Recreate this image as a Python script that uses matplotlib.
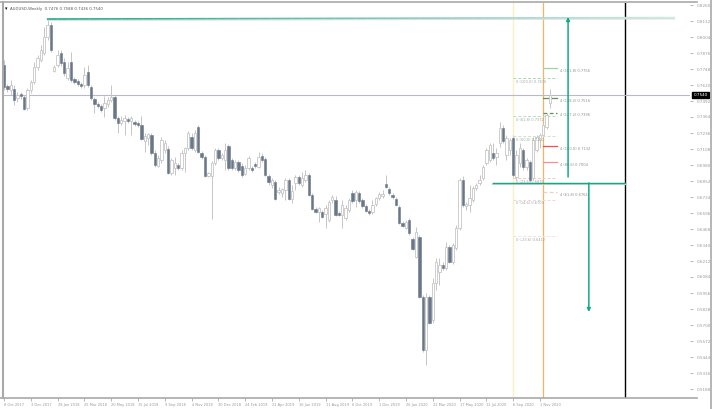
"""
plot.py - weekly candle chart with the drawn levels and arrows, saved as out.png
"""
import matplotlib
matplotlib.use("Agg")
import matplotlib.pyplot as plt
import numpy as np
from matplotlib.collections import LineCollection
from matplotlib.lines import Line2D

# ── Data: weekly candles, prices in points (1/10000) ─────────────────────────
OPEN = [7780, 7612, 7580, 7588, 7516, 7548, 7524, 7436, 7580, 7644, 7764, 7820, 7876, 8004, 8100, 7732,
        7780, 7876, 7804, 7676, 7804, 7668, 7652, 7628, 7620, 7724, 7604, 7508, 7468, 7452, 7436, 7468,
        7500, 7524, 7356, 7316, 7332, 7348, 7332, 7324, 7316, 7300, 7172, 7196, 7220, 7076, 6972, 7020,
        7100, 7108, 6916, 6956, 6980, 6956, 7076, 7116, 7204, 7100, 7284, 7076, 7044, 6892, 6892, 6996,
        7100, 7036, 7020, 7132, 7020, 6956, 7004, 6972, 6908, 6956, 6956, 6988, 6964, 7052, 7028, 6892,
        6820, 6844, 6764, 6756, 6780, 6860, 6708, 6836, 6884, 6820, 6860, 6900, 6740, 6628, 6604, 6604,
        6588, 6540, 6700, 6700, 6596, 6580, 6556, 6620, 6756, 6700, 6756, 6700, 6652, 6612, 6604, 6668,
        6716, 6732, 6828, 6788, 6740, 6708, 6644, 6516, 6476, 6540, 6388, 6244, 6404, 5924, 5500, 5924,
        5740, 6036, 6124, 6180, 6156, 6324, 6204, 6316, 6476, 6860, 6652, 6660, 6700, 6796, 6836, 6876,
        6996, 7020, 7076, 7044, 7156, 7276, 7060, 7100, 7196, 6884, 6996, 7100, 6964, 7004, 6876, 7100,
        7180, 7220, 7284, 7476]
HIGH = [7820, 7628, 7660, 7620, 7564, 7564, 7540, 7596, 7660, 7804, 7860, 7940, 8084, 8140, 8124, 7780,
        7900, 7900, 7836, 7804, 7884, 7684, 7668, 7644, 7764, 7780, 7620, 7524, 7484, 7468, 7532, 7524,
        7620, 7540, 7372, 7372, 7380, 7364, 7372, 7340, 7332, 7372, 7236, 7236, 7236, 7100, 7060, 7204,
        7180, 7132, 7036, 7044, 6996, 7100, 7124, 7252, 7236, 7260, 7300, 7092, 7060, 6924, 7012, 7116,
        7116, 7076, 7156, 7148, 7036, 7020, 7020, 6996, 6980, 7052, 6972, 7004, 7084, 7076, 7044, 6908,
        6876, 6860, 6804, 6796, 6876, 6876, 6820, 6900, 6900, 6924, 6940, 6916, 6756, 6644, 6644, 6620,
        6660, 6700, 6740, 6732, 6612, 6700, 6660, 6716, 6780, 6780, 6772, 6716, 6668, 6628, 6700, 6724,
        6764, 6780, 6900, 6804, 6756, 6724, 6660, 6532, 6540, 6556, 6404, 6484, 6420, 5940, 5956, 5940,
        6076, 6236, 6236, 6204, 6364, 6340, 6356, 6500, 6876, 6892, 6684, 6820, 6812, 6836, 6900, 6980,
        7116, 7156, 7156, 7116, 7324, 7300, 7220, 7196, 7220, 7100, 7156, 7116, 7036, 7020, 7204, 7220,
        7236, 7316, 7396, 7588]
LOW = [7580, 7564, 7540, 7460, 7484, 7508, 7420, 7420, 7556, 7628, 7740, 7804, 7860, 7980, 7884, 7724,
       7764, 7772, 7692, 7660, 7644, 7628, 7612, 7596, 7596, 7604, 7500, 7396, 7436, 7404, 7364, 7444,
       7484, 7340, 7236, 7300, 7220, 7316, 7220, 7292, 7284, 7180, 7084, 7140, 7060, 6964, 6964, 6996,
       7076, 6908, 6900, 6900, 6940, 6940, 6924, 7100, 7100, 7084, 7076, 7028, 6884, 6884, 6548, 6980,
       7020, 7020, 6940, 6940, 6940, 6940, 6924, 6884, 6900, 6940, 6924, 6956, 6956, 7004, 6892, 6820,
       6796, 6700, 6748, 6724, 6700, 6700, 6676, 6780, 6820, 6804, 6844, 6732, 6620, 6596, 6524, 6556,
       6476, 6524, 6676, 6572, 6572, 6476, 6540, 6604, 6676, 6644, 6676, 6636, 6604, 6580, 6588, 6652,
       6700, 6716, 6796, 6740, 6708, 6652, 6508, 6484, 6468, 6420, 6300, 6236, 5916, 5484, 5380, 5708,
       5716, 5980, 6020, 6140, 6140, 6196, 6188, 6300, 6460, 6644, 6620, 6604, 6684, 6780, 6820, 6860,
       6980, 7004, 7020, 6980, 7124, 7156, 7020, 7060, 6884, 6860, 6964, 6940, 6940, 6844, 6860, 7084,
       7116, 7204, 7268, 7436]
CLOSE = [7604, 7588, 7620, 7500, 7540, 7532, 7428, 7580, 7644, 7764, 7836, 7900, 8004, 8100, 7900, 7764,
         7860, 7796, 7716, 7756, 7660, 7644, 7628, 7612, 7700, 7620, 7516, 7468, 7452, 7420, 7476, 7500,
         7524, 7356, 7316, 7340, 7356, 7332, 7356, 7308, 7300, 7188, 7212, 7228, 7076, 6980, 7036, 7180,
         7156, 6916, 7020, 6996, 6956, 7076, 7116, 7236, 7116, 7236, 7084, 7044, 6892, 6916, 6996, 7100,
         7036, 7060, 7100, 6956, 6956, 7004, 6940, 6900, 6956, 7036, 6940, 6972, 7044, 7020, 6900, 6844,
         6860, 6708, 6780, 6788, 6860, 6708, 6772, 6884, 6836, 6876, 6900, 6740, 6628, 6604, 6636, 6564,
         6636, 6684, 6724, 6580, 6580, 6660, 6636, 6700, 6692, 6764, 6692, 6652, 6612, 6596, 6660, 6716,
         6748, 6748, 6804, 6756, 6724, 6660, 6516, 6492, 6524, 6436, 6308, 6444, 5924, 5500, 5924, 5716,
         6036, 6204, 6180, 6156, 6324, 6204, 6340, 6476, 6860, 6660, 6668, 6716, 6796, 6820, 6860, 6964,
         7100, 7140, 7036, 7076, 7276, 7172, 7196, 7180, 6900, 7060, 7116, 6964, 7020, 6860, 7180, 7204,
         7220, 7300, 7380, 7540]

DATE_LABELS = ["8 Oct 2017", "3 Dec 2017", "28 Jan 2018", "25 Mar 2018", "20 May 2018", "15 Jul 2018",
               "9 Sep 2018", "4 Nov 2018", "30 Dec 2018", "24 Feb 2019", "21 Apr 2019", "16 Jun 2019",
               "11 Aug 2019", "6 Oct 2019", "1 Dec 2019", "26 Jan 2020", "22 Mar 2020", "17 May 2020",
               "12 Jul 2020", "6 Sep 2020", "1 Nov 2020"]
HEADER = "AUDUSD,Weekly  0.7476 0.7588 0.7436 0.7540"

LAST_PRICE = 7540
TOP_LEVEL = (8148, 8160)          # drawn line at the 2018 high (left, right)
NECK_LEVEL = 6836                 # drawn line at the base
UP_TARGET = (6884, 8164)          # vertical measure arrow (from, to)
DOWN_TARGET = (6836, 5804)

# fibonacci-style levels: (price, label, colour[, dashed])
LEFT_LEVELS = [
    (7676, "0 (100.0) 0.7676", "#a8d8a8"),
    (7372, "0 (61.8) 0.7372", "#b8dcb8"),
    (7212, "0 (50.0) 0.7212", "#c8e6c8"),
    (6876, "0 (23.6) 0.6876", "#f0c8c8"),
    (6700, "0 (14.6) 0.6700", "#f4d4d4"),
    (6412, "0 (-23.6) 0.6412", "#f6dede"),
]
RIGHT_LEVELS = [
    (7756, "4 (161.8) 0.7756", "#9ed49e", False),
    (7516, "4 (138.2) 0.7516", "#5f8f5f", False),
    (7396, "4 (127.2) 0.7396", "#5f8f5f", True),
    (7132, "4 (100.0) 0.7132", "#f05050", False),
    (7004, "4 (88.6) 0.7004", "#f49090", False),
    (6764, "4 (61.8) 0.6764", "#f4caca", True),
]

# ── Layout ────────────────────────────────────────────────────────────────────
W, H = 712, 409
fig = plt.figure(figsize=(W / 100, H / 100), dpi=100)
fig.patch.set_facecolor("white")
ax = fig.add_axes([3 / W, (H - 398) / H, (690 - 3) / W, (398 - 3) / H])
ax.set_facecolor("white")

n = len(OPEN)
xs = np.arange(n)
o = np.array(OPEN) / 1e4
h = np.array(HIGH) / 1e4
lo = np.array(LOW) / 1e4
c = np.array(CLOSE) / 1e4
up = c >= o

DARK = "#6a7789"
LIGHT = "#c6c6c6"
TEAL = "#14a889"

ax.set_xlim(-0.3, 204.8)
ax.set_ylim(0.5116, 0.8276)

# vertical markers
ax.axvline(151.9, color="#f7f1c6", lw=1.0, zorder=1)
ax.axvline(160.9, color="#f5b462", lw=0.9, zorder=1)
ax.axvline(185.4, color="black", lw=1.0, zorder=1)

# last price line
ax.axhline(LAST_PRICE / 1e4, color="#b9b9c9", lw=0.8, zorder=1)

# candles
ax.vlines(xs, lo, h, colors=LIGHT, lw=0.7, zorder=2)
body_lo = np.minimum(o, c)
body_h = np.maximum(np.abs(c - o), 0.0009)
ax.bar(xs[up], body_h[up], bottom=body_lo[up], width=0.7,
       facecolor="white", edgecolor=LIGHT, linewidth=0.6, zorder=3)
ax.bar(xs[~up], body_h[~up], bottom=body_lo[~up], width=0.7,
       facecolor=DARK, edgecolor=DARK, linewidth=0.4, zorder=3)

# fibo levels
for price, label, col in LEFT_LEVELS:
    ax.plot([151.9, 165.1], [price / 1e4] * 2, color=col, lw=0.7, ls=(0, (3, 2)), zorder=2)
    ax.text(152.8, price / 1e4 - 0.0012, label, fontsize=2.6, color="#a0a8a0",
            va="top", ha="left", zorder=4)
for price, label, col, dashed in RIGHT_LEVELS:
    ax.plot([160.9, 165.1], [price / 1e4] * 2, color=col, lw=0.9,
            ls=(0, (3, 2)) if dashed else "-", zorder=2)
    ax.text(166.0, price / 1e4 - 0.0004, label, fontsize=2.6, color="#909090",
            va="top", ha="left", zorder=4)

# top line with fading colour
xl = np.linspace(12.8, 200.3, 60)
yl = np.linspace(TOP_LEVEL[0], TOP_LEVEL[1], 60) / 1e4
ax.plot(xl, yl - 0.0007, color="#dedede", lw=1.6, zorder=4, solid_capstyle="butt")
segs = np.stack([np.column_stack([xl[:-1], yl[:-1]]), np.column_stack([xl[1:], yl[1:]])], axis=1)
t = np.linspace(0, 1, len(segs))[:, None]
c0 = np.array(matplotlib.colors.to_rgb(TEAL))
c1 = np.array(matplotlib.colors.to_rgb("#cfe9e3"))
ax.add_collection(LineCollection(segs, colors=c0 * (1 - t) + c1 * t, linewidths=1.1, zorder=5))

# base line
ax.plot([146, 185.4], [NECK_LEVEL / 1e4 - 0.0006] * 2, color="#d4d4d4", lw=1.6, zorder=4)
ax.plot([146, 185.4], [NECK_LEVEL / 1e4] * 2, color=TEAL, lw=1.0, zorder=5)

# measure arrows
ax.annotate("", xy=(168.4, UP_TARGET[1] / 1e4), xytext=(168.4, UP_TARGET[0] / 1e4),
            arrowprops=dict(arrowstyle="-|>", color=TEAL, lw=1.1, mutation_scale=5,
                            shrinkA=0, shrinkB=0), zorder=6)
ax.annotate("", xy=(174.6, DOWN_TARGET[1] / 1e4), xytext=(174.6, DOWN_TARGET[0] / 1e4),
            arrowprops=dict(arrowstyle="-|>", color=TEAL, lw=1.1, mutation_scale=5,
                            shrinkA=0, shrinkB=0), zorder=6)

# axes cosmetics
for side in ["top", "right", "left", "bottom"]:
    ax.spines[side].set_visible(False)
ax.yaxis.tick_right()
yt = np.arange(8260, 5180, -128) / 1e4
ax.set_yticks(yt)
ax.set_yticklabels([f"{v:.4f}" for v in yt])
ax.tick_params(axis="y", length=2, width=0.5, colors="#9a9a9a", labelsize=3.0, pad=3)
ax.set_xticks(np.arange(0, 8 * len(DATE_LABELS), 8))
ax.set_xticklabels(DATE_LABELS, ha="left")
ax.tick_params(axis="x", length=2, width=0.5, colors="#9a9a9a", labelsize=2.6, pad=1.5)

ax.text(1.005, LAST_PRICE / 1e4, f"{LAST_PRICE / 1e4:.4f}", transform=ax.get_yaxis_transform(),
        fontsize=3.0, color="white", va="center", ha="left", zorder=7,
        bbox=dict(boxstyle="square,pad=0.25", facecolor="black", edgecolor="black"))

# window frame
frame = "#a9a9a9"
fig.add_artist(Line2D([0, 697 / W], [1 - 2 / H, 1 - 2 / H], color=frame, lw=1.2))
fig.add_artist(Line2D([0, 697 / W], [1 - 398 / H, 1 - 398 / H], color=frame, lw=1.2))
fig.add_artist(Line2D([3 / W, 3 / W], [1 - 398 / H, 1 - 2 / H], color=frame, lw=1.5))
fig.add_artist(Line2D([711 / W, 711 / W], [0, 1], color=frame, lw=1.2))

fig.text(5 / W, 1 - 9 / H, "\u25BE", fontsize=3.5, color="black", va="center")
fig.text(10 / W, 1 - 9 / H, HEADER, fontsize=2.8, color="#555555", va="center")

fig.savefig("out.png", dpi=100)
